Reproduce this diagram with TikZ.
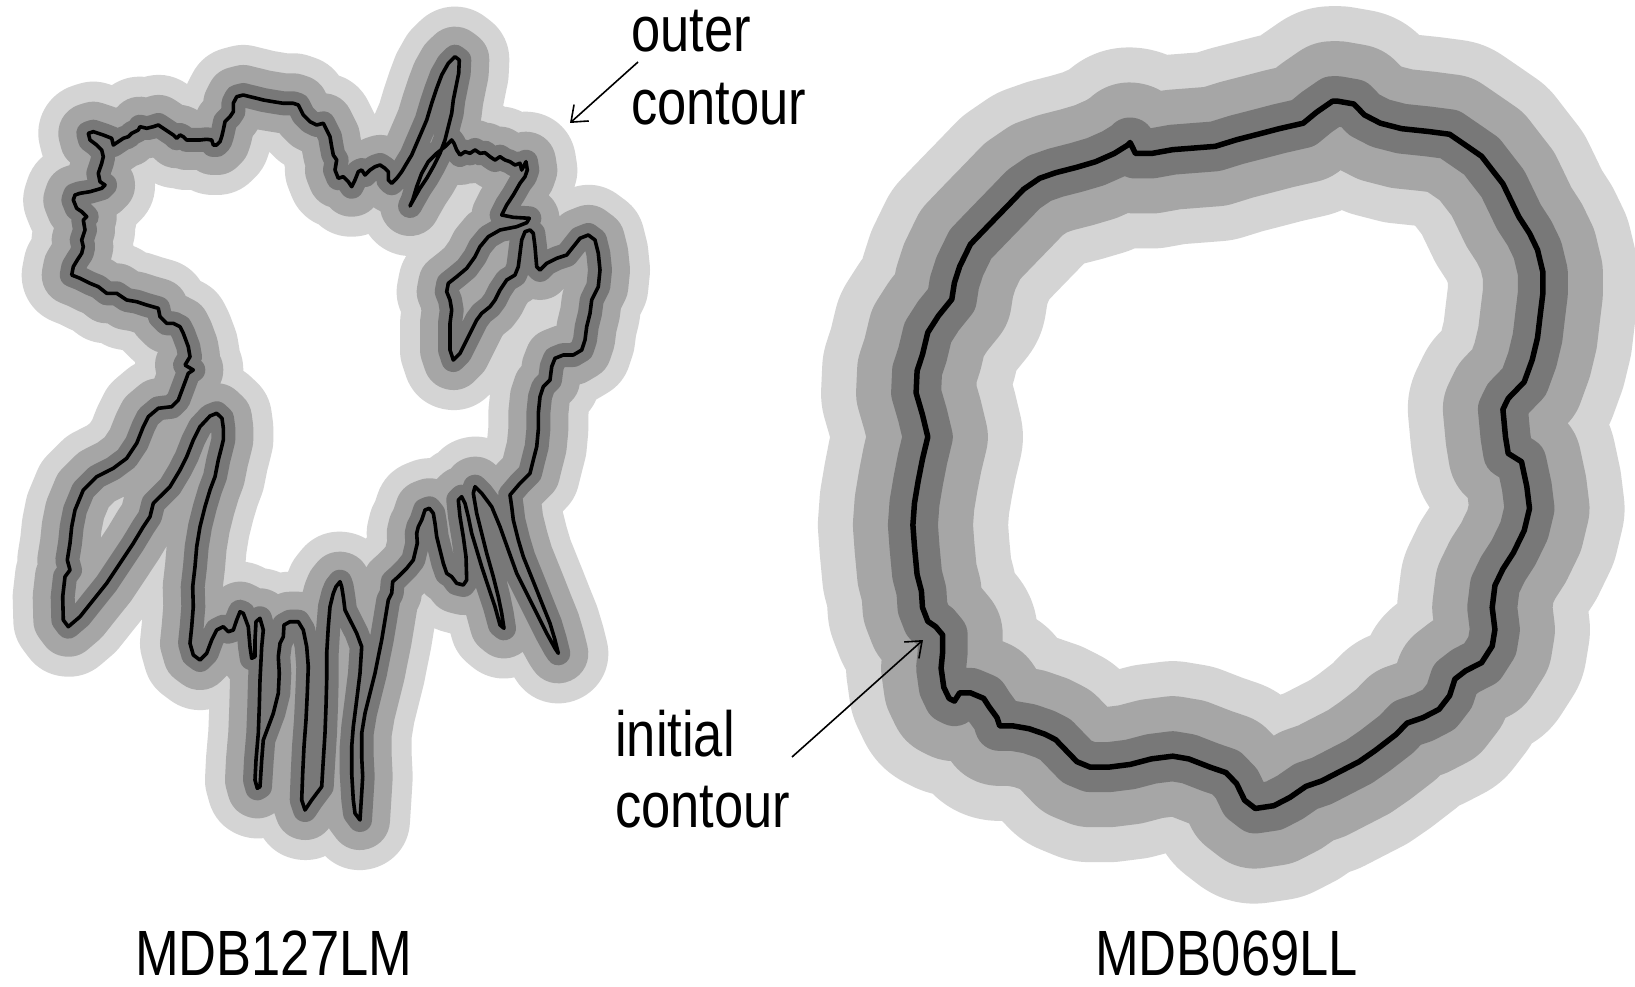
\documentclass[tikz,border=0pt]{standalone}
\usepackage{fontspec}
\setmainfont{Liberation Sans}[FakeStretch=0.82]
\usetikzlibrary{arrows.meta}
\definecolor{bandlight}{HTML}{D4D4D4}
\definecolor{bandmid}{HTML}{A6A6A6}
\definecolor{banddark}{HTML}{787878}
\begin{document}
\begin{tikzpicture}[x=1pt,y=-1pt,
  lbl/.style={font=\fontsize{64}{73}\selectfont, inner sep=0pt, anchor=base west},
  band/.style={line join=round, line cap=round},
  conn/.style={line width=1.6pt, -{Straight Barb[length=14pt,width=22pt,line width=1.6pt]}}]
\useasboundingbox (0,0) rectangle (1635,987);
\fill[white] (0,0) rectangle (1635,987);

% ---------- left lesion MDB127LM ----------
\foreach \w/\c in {100/bandlight,60/bandmid,24/banddark,3.6/black}{
\draw[band, line width=\w pt, draw=\c]
 (71.7,275) -- (73.3,266.7) -- (77.3,260) -- (81.7,253.3) -- (83.3,246.7) -- (81.7,240) -- (85,230) -- (83.3,220) -- (86.7,216.7) -- (81.7,211.7) -- (76.7,208.3) -- (73.3,200) -- (75,195) -- (80,193.3) -- (90,191.7) -- (101.7,188.3) -- (105,185) -- (100,181.7) -- (98.3,173.3) -- (101.7,163.3) -- (103.3,156.7) -- (101.7,150) -- (96.7,145) -- (90,140) -- (88.3,133.3) -- (93.3,131.7) -- (103.3,135) -- (111.7,138.3) -- (113.3,145) -- (118.3,141.7) -- (123.3,138.3) -- (128.3,136.7) -- (131.7,133.3) -- (138.3,130) -- (140,126.7) -- (146.7,128.3) -- (153.3,126.7) -- (158.3,125) -- (163.3,128.3) -- (168.3,131.7) -- (173.3,135) -- (176.7,138.3) -- (180,135) -- (183.3,136.7) -- (186.7,140) -- (193.3,140) -- (200,140) -- (206.7,139.3) -- (211.7,140) -- (213.3,145) -- (216.7,145) -- (220,141.7) -- (221.7,136.7) -- (223.3,130) -- (225,121.7) -- (230,116.7) -- (233.3,111.7) -- (233.3,103.3) -- (236.7,96.7) -- (243.3,95) -- (250,96.7) -- (256.7,98.3) -- (263.3,100) -- (273.3,101.7) -- (283.3,103.3) -- (293.3,103.3) -- (298.3,105) -- (303.3,115) -- (310,121.7) -- (316.7,125) -- (323.3,123.3) -- (326.7,130) -- (330,136.7) -- (331.7,146.7) -- (333.3,155) -- (336.7,160) -- (335,170) -- (338.3,178.3)
 -- (343.3,176.7) -- (348.3,181.7) -- (351.7,186.7) -- (355,180) -- (358.3,171.7) -- (361.7,170) -- (365,175) -- (370,170) -- (375,166.7) -- (380,165) -- (385,168.3) -- (388.3,171.7) -- (388.3,180) -- (391.7,183.3) -- (396.7,178.3) -- (401.7,171.7) -- (406.7,163.3) -- (411.7,155) -- (416.7,143.3) -- (421.7,131.7) -- (426.7,120) -- (431.7,103.3) -- (436.7,88.3) -- (441.7,75) -- (448.3,63.3) -- (455,56.7) -- (459.3,60) -- (458.7,73.3) -- (456,86.7) -- (453.3,100) -- (451.7,113.3) -- (448.3,126.7) -- (445,140) -- (440,153.3) -- (433.3,166.7) -- (426.7,178.3) -- (420,188.3) -- (413.3,200) -- (410,206) -- (412.7,200) -- (416.7,186.7) -- (421.7,173.3) -- (428.3,161.7) -- (436.7,153.3) -- (445,146.7) -- (451.7,140) -- (454,143.3) -- (456.7,150) -- (460,155) -- (465,151.7) -- (470,153.3) -- (475,150) -- (480,153.3) -- (485,152.7) -- (490,156.7) -- (495,160) -- (500,156.7) -- (505,160) -- (510,161.7) -- (515,165) -- (520,163.3) -- (521.7,170) -- (526,161.7) -- (527.3,170) -- (525,176.7) -- (520,183.3) -- (513.3,195) -- (506.7,205) -- (501.7,215) -- (513.3,217.3) -- (529.3,218.3) -- (526.7,222.7) -- (516.7,226.7)
 -- (500,230) -- (488.3,236.7) -- (480,246.7) -- (475,256.7) -- (466.7,268.3) -- (456.7,276.7) -- (448.3,283.3) -- (446.7,291.7) -- (450,300) -- (451.7,310) -- (450,323.3) -- (450,336.7) -- (450,350) -- (453.3,360) -- (460,353.3) -- (465,343.3) -- (470,333.3) -- (476.7,320) -- (481.7,313.3) -- (490,306.7) -- (495,300) -- (500,290) -- (506.7,280) -- (515,275) -- (518.3,266.7) -- (520,253.3) -- (521.7,240) -- (525,231.7) -- (530,230) -- (533.3,233.3) -- (535,246.7) -- (536.7,266.7) -- (540,270) -- (546.7,263.3) -- (556.7,258.3) -- (566.7,255) -- (573.3,246.7) -- (580,238.3) -- (588.3,235) -- (595,240) -- (598.3,253.3) -- (600,270) -- (598.3,286.7) -- (595,293.3) -- (591.7,300) -- (590,313.3) -- (586.7,326.7) -- (585,340) -- (581.7,350) -- (573.3,355) -- (563.3,355) -- (555,358.3) -- (551.7,366.7) -- (550,380) -- (543.3,386.7) -- (540,396.7) -- (538.3,413.3) -- (538.3,430) -- (536.7,446.7)
 -- (533.3,460) -- (530,473.3) -- (520,483.3) -- (510,495) -- (511.7,506.7) -- (513.3,520) -- (518.3,540) -- (523.3,556.7) -- (530,573.3) -- (536.7,590) -- (543.3,606.7) -- (550,623.3) -- (555,640) -- (558.3,653.3) -- (555,648.3) -- (546.7,633.3) -- (536.7,613.3) -- (526.7,593.3) -- (516.7,573.3) -- (508.3,550) -- (500,526.7) -- (491.7,506.7) -- (481.7,493.3) -- (475,486.7) -- (473.3,493.3) -- (476.7,513.3) -- (481.7,533.3) -- (486.7,553.3) -- (493.3,576.7) -- (498.3,596.7) -- (501.7,613.3) -- (504,628.3) -- (500,625) -- (495,606.7) -- (488.3,586.7) -- (481.7,566.7) -- (476.7,550) -- (471.7,533.3) -- (468.3,516.7) -- (465,503.3) -- (461.7,496.7) -- (458.3,500) -- (460,516.7) -- (463.3,536.7) -- (466,556.7) -- (466.7,580) -- (463.3,585) -- (456.7,583.3) -- (451.7,576.7) -- (446.7,573.3) -- (443.3,563.3) -- (440,550) -- (436.7,536.7) -- (435,523.3) -- (433.3,513.3) -- (429.3,508.3) -- (425,510) -- (421.7,520) -- (418.3,526.7) -- (416.7,533.3) -- (417.3,543.3) -- (413.3,560) -- (406.7,568.3) -- (398.3,576.7) -- (392.7,581.7) -- (391.7,593.3) -- (388.3,600) -- (385,620) -- (381.7,640) -- (378.3,656.7) -- (375,673.3) -- (370,693.3) -- (365,713.3) -- (361.7,733.3) -- (361.7,756.7) -- (362.7,776.7) -- (361.7,793.3) -- (360,820) -- (355,813.3) -- (353.3,800) -- (351.7,773.3) -- (351.7,746.7) -- (353.3,726.7) -- (356.7,700) -- (360,673.3) -- (361.7,646.7) -- (356.7,633.3) -- (350,620) -- (345,610) -- (343.3,596.7) -- (341.7,586.7) -- (340,581.7) -- (336,586.7) -- (333.3,593.3) -- (330,606.7) -- (328.3,626.7) -- (326.7,653.3) -- (326.7,680) -- (326,706.7) -- (325,733.3) -- (323.3,760) -- (321.7,786.7) -- (316.7,793.3) -- (311.7,800) -- (305,810) -- (301.7,800) -- (302.7,773.3) -- (304,746.7) -- (306,720) -- (307.3,693.3) -- (308.3,666.7) -- (306.7,646.7) -- (303.3,630) -- (298.3,621.7) -- (290,621.7) -- (284,625) -- (283.3,636.7) -- (280,643.3) -- (278.3,656.7) -- (279.3,673.3) -- (278.3,693.3) -- (273.3,713.3) -- (268.3,726.7) -- (263.3,740) -- (261.7,760) -- (260,786.7) -- (257.3,788.3) -- (255,780) -- (256,760) -- (258.3,733.3) -- (259.3,706.7) -- (260,680) -- (261.7,646.7) -- (263.3,630) -- (260,618.3) -- (256,621.7) -- (255,640) -- (255,656.7) -- (251.7,658.3) -- (250,646.7) -- (248.3,626.7) -- (243.3,613.3) -- (240,611.7) -- (236.7,620) -- (233.3,630) -- (228.3,631.7) -- (223.3,626.7) -- (216.7,630) -- (211.7,640) -- (206.7,653.3) -- (200,660) -- (193.3,655) -- (190,643.3) -- (191.7,626.7) -- (193.3,606.7) -- (192.7,586.7) -- (195,566.7) -- (196.7,546.7) -- (200,526.7) -- (205,506.7) -- (210,490) -- (215,476.7) -- (218.3,460) -- (221.7,446.7) -- (223.3,440)
 -- (223.3,428) -- (222,418.3) -- (216.7,413.3) -- (210,416) -- (200,426.7) -- (193.3,440) -- (186.7,456.7) -- (180,470) -- (170,486.7) -- (160,496.7) -- (153.3,503.3) -- (150,516.7) -- (143.3,526.7) -- (133.3,543.3) -- (120,563.3) -- (106.7,583.3) -- (93.3,600) -- (80,616.7) -- (68.3,626.7) -- (63.3,620) -- (62.7,596.7) -- (65,576.7) -- (70,570) -- (67.3,560) -- (70,543.3) -- (71.7,526.7) -- (75,510) -- (83.3,490) -- (96.7,476.7) -- (113.3,468.3) -- (126.7,458.3) -- (136.7,443.3) -- (143.3,426.7) -- (148.3,416.7) -- (158.3,408.3) -- (171.7,406.7) -- (178.3,400) -- (183.3,386.7) -- (188.3,373.3) -- (193.3,370) -- (185,365) -- (190,356.7) -- (188.3,346.7)
 -- (183.3,333.3) -- (180,326.7) -- (173.3,323.3) -- (166.7,323.3) -- (160,316.7) -- (158.3,308.3) -- (146.7,305) -- (136.7,301.7) -- (126.7,300) -- (116.7,293.3) -- (106.7,293.3) -- (98.3,286.7) -- (90,283.3) -- (80,278.3) -- cycle;
}

% ---------- right lesion MDB069LL ----------
\begin{scope}[yscale=1.0336]
\foreach \w/\c in {190/bandlight,120/bandmid,50/banddark,5.5/black}{
\draw[band, line width=\w pt, draw=\c]
 (1337.8,97.9) -- (1353.8,100.6) -- (1364.4,111.2) -- (1380.4,119.2) -- (1401.7,124.5) -- (1428.3,127.2) -- (1449.6,129.9) -- (1465.6,140.5) -- (1481.6,151.2) -- (1492.2,164.5) -- (1502.9,177.8) -- (1510.9,193.8) -- (1518.8,209.7) -- (1529.5,225.7) -- (1537.5,241.7) -- (1542.8,263) -- (1542.8,284.3) -- (1540.1,305.6) -- (1537.5,326.9) -- (1532.2,348.2) -- (1524.2,369.5) -- (1508.2,385.5) -- (1502.9,396.1) -- (1505.5,422.7) -- (1508.2,438.7) -- (1521.5,446.7) -- (1526.8,470.7) -- (1529.5,492) -- (1524.2,513.3) -- (1513.5,534.6) -- (1502.9,550.5) -- (1494.9,566.5) -- (1492.2,587.8) -- (1494.9,609.1) -- (1492.2,625.1) -- (1481.6,641.1) -- (1465.6,649) -- (1454.9,657) -- (1449.6,673) -- (1439,686.3) -- (1423,694.3) -- (1407,699.6) -- (1396.4,710.3) -- (1375.1,726.2) -- (1359.1,736.9) -- (1337.8,747.5) -- (1321.8,755.5) -- (1305.9,760.8) -- (1289.9,771.5) -- (1273.9,779.5) -- (1255.3,782.2) -- (1244.6,774.2) -- (1236.6,758.2) -- (1226,747.5) -- (1210,742.2) -- (1188.7,734.2) -- (1172.7,731.6) -- (1151.4,734.2) -- (1130.1,739.6) -- (1108.8,742.2) -- (1090.2,742.2) -- (1076.9,736.9) -- (1066.2,726.2) -- (1055.6,715.6) -- (1044.9,710.3) -- (1029,705) -- (1013,702.3) -- (999.7,702.3) -- (997,694.3) -- (989,683.7) -- (983.7,675.7) -- (970.4,670.3) -- (959.7,670.3) -- (954.4,678.3) -- (949.1,675.7) -- (943.8,665) -- (941.1,646.4) -- (942.7,630.4) -- (942.7,614.4) -- (935.8,606.4) -- (927.8,601.1) -- (922.5,587.8) -- (921.4,571.8) -- (917.1,555.9) -- (914.5,529.2) -- (912.9,507.9) -- (914.5,486.6) -- (918.2,465.3) -- (922.5,444) -- (927.8,422.7) -- (922.5,401.4) -- (916.1,380.1) -- (917.1,358.8) -- (922.5,342.9) -- (927.8,321.6) -- (938.4,305.6) -- (951.8,289.6) -- (954.4,273.6) -- (959.7,257.7) -- (965.1,247) -- (970.4,236.4) -- (981,225.7) -- (997,209.7) -- (1007.7,199.1) -- (1023.6,183.1) -- (1039.6,172.5) -- (1055.6,167.1) -- (1076.9,161.8) -- (1095.5,156.5) -- (1114.2,148.5) -- (1127.5,140.5) -- (1130.1,137.9) -- (1135.5,148.5) -- (1151.4,148.5) -- (1172.7,144.8) -- (1194,143.2) -- (1215.3,141.6) -- (1236.6,135.2) -- (1257.9,129.9) -- (1279.2,124.5) -- (1303.2,119.2) -- (1316.5,108.6) -- (1332.5,97.9) -- cycle;
}
\end{scope}

% ---------- labels ----------
\node[lbl] (outer1) at (631,52) {outer};
\node[lbl] (outer2) at (631,125) {contour};
\node[lbl] (init1) at (615,756) {initial};
\node[lbl] (init2) at (615,827) {contour};
\node[lbl] (nameL) at (135,975) {MDB127LM};
\node[lbl] (nameR) at (1095,975) {MDB069LL};

\coordinate (outerFrom) at (638,62);
\coordinate (outerTip) at (570,123);
\coordinate (initFrom) at (792,757);
\coordinate (initTip) at (923,640);
\draw[conn] (outerFrom) -- (outerTip);
\draw[conn] (initFrom) -- (initTip);
\end{tikzpicture}
\end{document}
